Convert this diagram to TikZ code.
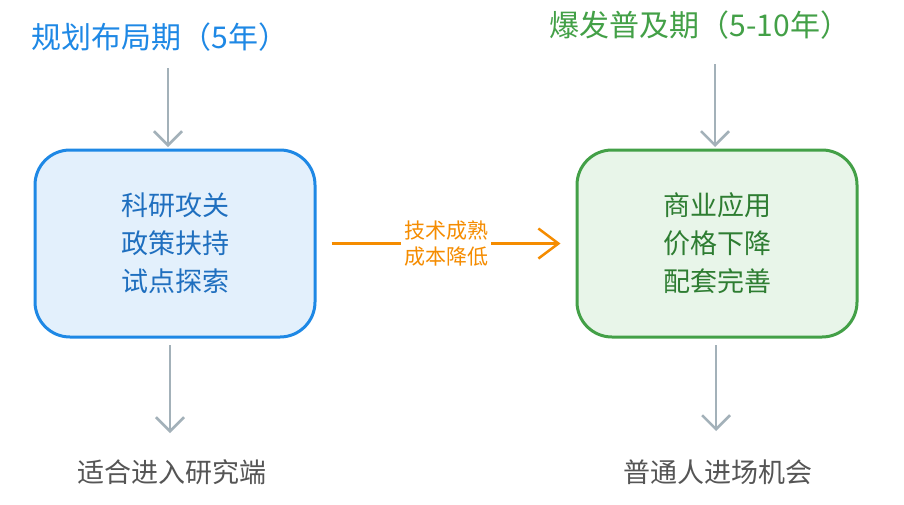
\documentclass[tikz,border=0pt]{standalone}
\usepackage{fontspec}
\setmainfont{Noto Sans CJK SC}
\usetikzlibrary{arrows.meta}
\definecolor{bstroke}{HTML}{1E88E5}
\definecolor{bfill}{HTML}{E3F0FC}
\definecolor{btext}{HTML}{1F6FBF}
\definecolor{gstroke}{HTML}{43A047}
\definecolor{gfill}{HTML}{E8F5E9}
\definecolor{gtext}{HTML}{2E7D32}
\definecolor{grayarr}{HTML}{A3B1B9}
\definecolor{graytxt}{HTML}{555555}
\definecolor{orng}{HTML}{F58C00}
\begin{document}
\begin{tikzpicture}[x=1pt,y=-1pt,
  box/.style={rounded corners=35pt,line width=3pt,minimum width=280pt,minimum height=187pt,align=center,font=\fontsize{27}{38}\selectfont},
  garr/.style={draw=grayarr,line width=2.5pt,-{Straight Barb[length=14pt,width=28pt,line width=2.5pt]}},
  title/.style={font=\fontsize{30}{34}\selectfont}]
\useasboundingbox[fill=white] (0,0) rectangle (904,504);
\node[title,text=bstroke] (t1) at (160,37) {规划布局期（5年）};
\node[title,text=gstroke] (t2) at (700,25) {爆发普及期（5-10年）};
\node[box,draw=bstroke,fill=bfill,text=btext] (b1) at (175,243.5) {科研攻关\\政策扶持\\试点探索};
\node[box,draw=gstroke,fill=gfill,text=gtext] (b2) at (717,243.5) {商业应用\\价格下降\\配套完善};
\node[font=\fontsize{27}{30}\selectfont,text=graytxt] (o1) at (172,472) {适合进入研究端};
\node[font=\fontsize{27}{30}\selectfont,text=graytxt] (o2) at (718,472) {普通人进场机会};
\coordinate (a1) at (168,68); \coordinate (a1e) at (168,147);
\coordinate (a2) at (715,64); \coordinate (a2e) at (715,147);
\draw[garr] (a1) -- (a1e);
\draw[garr] (a2) -- (a2e);
\draw[garr] (170,345) -- (170,433);
\draw[garr] (716,345) -- (716,431);
\draw[draw=orng,line width=2.5pt,-{Straight Barb[length=20pt,width=30pt,line width=2.5pt]}] (b1.east)++(15,0) -- ([xshift=-15pt]b2.west)
  node[midway,fill=white,text=orng,align=center,font=\fontsize{21}{26}\selectfont,inner sep=3pt] {技术成熟\\成本降低};
\end{tikzpicture}
\end{document}
